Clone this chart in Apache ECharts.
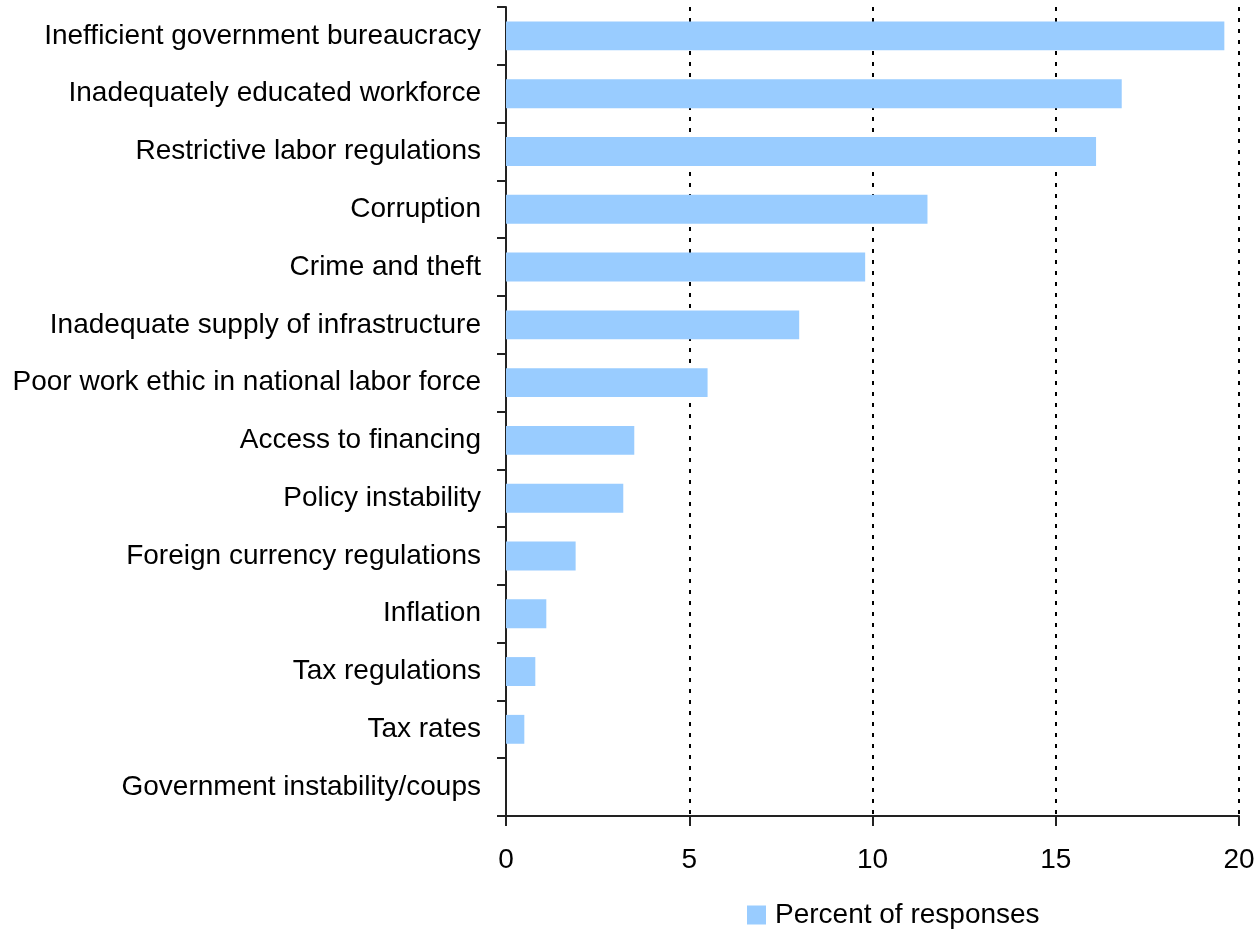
<!DOCTYPE html>
<html>
<head>
<meta charset="utf-8">
<style>
  html, body { margin: 0; padding: 0; background: #ffffff; }
  #chart { width: 1260px; height: 930px; }
</style>
<script src="https://cdn.jsdelivr.net/npm/echarts@6/dist/echarts.min.js"></script>
</head>
<body>
<div id="chart"></div>
<script>
// Most problematic factors for doing business, listed top to bottom
const categories = [
  'Inefficient government bureaucracy',
  'Inadequately educated workforce',
  'Restrictive labor regulations',
  'Corruption',
  'Crime and theft',
  'Inadequate supply of infrastructure',
  'Poor work ethic in national labor force',
  'Access to financing',
  'Policy instability',
  'Foreign currency regulations',
  'Inflation',
  'Tax regulations',
  'Tax rates',
  'Government instability/coups'
];
const percentOfResponses = [19.6, 16.8, 16.1, 11.5, 9.8, 8.0, 5.5, 3.5, 3.2, 1.9, 1.1, 0.8, 0.5, 0];
const xTicks = [0, 5, 10, 15, 20];
const seriesName = 'Percent of responses';

const FONT = '"Liberation Sans", Arial, sans-serif';
const chart = echarts.init(document.getElementById('chart'), null, { renderer: 'canvas' });

chart.setOption({
  animation: false,
  backgroundColor: '#ffffff',
  textStyle: { fontFamily: FONT, color: '#000000' },
  grid: { left: 506, right: 21, top: 7, bottom: 114, containLabel: false },
  legend: {
    data: [seriesName],
    left: 747,
    top: 901,
    padding: 0,
    itemWidth: 19,
    itemHeight: 19,
    icon: 'rect',
    textStyle: { fontFamily: FONT, fontSize: 28, color: '#000000', padding: [0, 0, 0, 4] }
  },
  xAxis: {
    type: 'value',
    min: xTicks[0],
    max: xTicks[xTicks.length - 1],
    interval: 5,
    axisLine: { show: true, lineStyle: { color: '#222222', width: 2 } },
    axisTick: { show: true, length: 10, lineStyle: { color: '#222222', width: 2 } },
    axisLabel: { fontFamily: FONT, fontSize: 28, color: '#000000', margin: 30 },
    splitLine: { show: true, lineStyle: { color: '#000000', width: 2, type: [4, 7] } }
  },
  yAxis: {
    type: 'category',
    data: categories,
    inverse: true,
    axisLine: { show: true, lineStyle: { color: '#222222', width: 2 } },
    axisTick: { show: true, length: 9, lineStyle: { color: '#222222', width: 2 } },
    axisLabel: { fontFamily: FONT, fontSize: 28, color: '#000000', margin: 25 },
    splitLine: { show: false }
  },
  series: [{
    name: seriesName,
    type: 'bar',
    data: percentOfResponses,
    barCategoryGap: '50%',
    itemStyle: { color: '#99CCFF' }
  }]
});
</script>
</body>
</html>
